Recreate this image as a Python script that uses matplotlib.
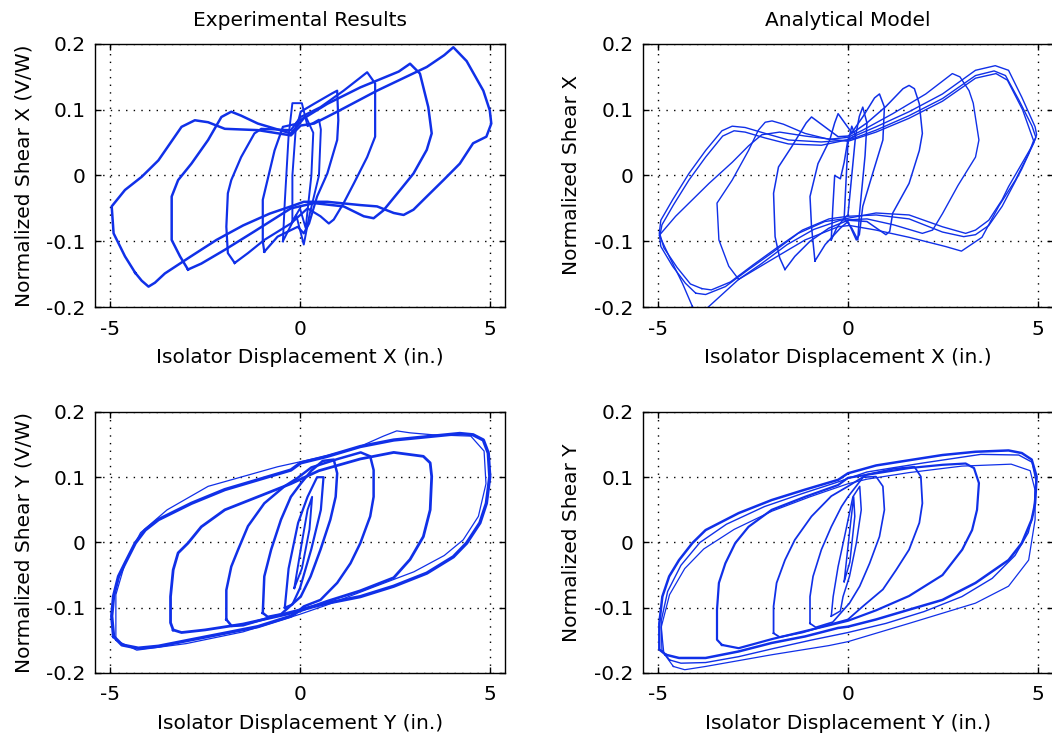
import matplotlib
matplotlib.use('Agg')
import matplotlib.pyplot as plt

plt.rcParams['font.family'] = ['DejaVu Sans']
plt.rcParams['axes.unicode_minus'] = False

# ---- Experimental, X direction (x = displacement in., y = shear V/W) ----
exp_x_a = [(-4.34, -0.148), (-4.17, -0.160), (-3.99, -0.169), (-3.82, -0.163), (-3.56, -0.149),
           (-2.90, -0.124), (-2.20, -0.098), (-1.50, -0.076), (-0.80, -0.058), (-0.24, -0.047),
           (0.10, -0.040), (0.72, -0.040), (1.59, -0.045), (2.03, -0.047), (2.47, -0.057),
           (2.73, -0.060), (2.99, -0.052), (3.34, -0.032), (3.78, -0.007), (4.21, 0.018),
           (4.56, 0.049), (4.91, 0.059), (5.04, 0.079), (5.00, 0.099), (4.83, 0.129),
           (4.39, 0.174), (4.04, 0.195), (3.80, 0.183), (3.34, 0.165), (2.03, 0.129),
           (0.98, 0.097), (0.37, 0.079), (0.02, 0.076), (-0.24, 0.061), (-1.11, 0.069),
           (-1.98, 0.071), (-2.42, 0.081), (-2.77, 0.084), (-3.12, 0.074), (-3.73, 0.023),
           (-4.17, -0.002), (-4.61, -0.022), (-4.96, -0.047), (-4.91, -0.088), (-4.61, -0.123),
           (-4.34, -0.148)]
exp_x_b = [(-2.95, -0.143), (-2.60, -0.134), (-1.98, -0.113), (-1.20, -0.085), (-0.24, -0.050),
           (0.37, -0.042), (1.15, -0.047), (1.68, -0.062), (1.94, -0.065), (2.20, -0.053),
           (2.64, -0.022), (2.99, 0.003), (3.34, 0.039), (3.47, 0.064), (3.38, 0.104),
           (3.16, 0.155), (2.90, 0.170), (2.60, 0.158), (1.59, 0.134), (0.72, 0.109),
           (0.10, 0.087), (-0.24, 0.064), (-1.11, 0.079), (-1.55, 0.091), (-1.81, 0.097),
           (-2.07, 0.089), (-2.42, 0.054), (-2.86, 0.018), (-3.21, -0.007), (-3.38, -0.032),
           (-3.38, -0.098), (-3.16, -0.123), (-2.95, -0.143)]
exp_x_c = [(-1.72, -0.133), (-1.37, -0.118), (-0.94, -0.098), (-0.24, -0.073), (0.20, -0.050),
           (0.54, -0.062), (0.76, -0.073), (0.89, -0.067), (1.15, -0.042), (1.42, -0.012),
           (1.77, 0.028), (1.98, 0.059), (1.98, 0.140), (1.77, 0.157), (1.15, 0.129),
           (0.54, 0.104), (0.02, 0.089), (-0.24, 0.069), (-1.02, 0.071), (-1.20, 0.064),
           (-1.55, 0.028), (-1.81, -0.007), (-1.90, -0.027), (-1.94, -0.078), (-1.90, -0.118),
           (-1.72, -0.133)]
exp_x_d = [(-0.94, -0.116), (-0.59, -0.093), (-0.06, -0.078), (0.10, -0.088), (0.24, -0.073),
           (0.45, -0.032), (0.72, 0.003), (0.98, 0.054), (1.01, 0.084), (0.98, 0.129),
           (0.85, 0.125), (0.37, 0.109), (0.02, 0.097), (-0.06, 0.079), (-0.45, 0.074),
           (-0.67, 0.038), (-0.98, -0.037), (-0.98, -0.100), (-0.94, -0.116)]
exp_x_e = [(-0.45, -0.100), (-0.10, -0.060), (0.10, -0.105), (0.25, -0.060), (0.50, 0.000),
           (0.55, 0.070), (0.50, 0.085), (0.20, 0.075), (0.05, 0.110), (-0.20, 0.110),
           (-0.30, 0.060), (-0.40, -0.040), (-0.45, -0.100)]
exp_x_f = [(-0.20, -0.070), (0.00, -0.050), (0.15, -0.080), (0.30, 0.000), (0.35, 0.065),
           (0.15, 0.090), (-0.10, 0.080), (-0.20, 0.000), (-0.20, -0.070)]

# ---- Analytical, X direction ----
ana_x_a1 = [(-4.01, -0.179), (-3.75, -0.181), (-3.23, -0.169), (-2.62, -0.143), (-2.01, -0.118),
            (-1.31, -0.088), (-0.61, -0.070), (0.00, -0.065), (0.74, -0.057), (1.61, -0.060),
            (2.49, -0.078), (3.10, -0.088), (3.36, -0.083), (3.71, -0.068), (4.06, -0.037),
            (4.23, -0.017), (4.58, 0.018), (4.89, 0.049), (4.97, 0.062), (4.93, 0.074),
            (4.58, 0.119), (4.23, 0.160), (3.88, 0.167), (3.36, 0.160), (2.49, 0.124),
            (1.61, 0.097), (0.74, 0.074), (0.13, 0.059), (0.00, 0.054), (-0.70, 0.051),
            (-1.57, 0.054), (-2.18, 0.064), (-2.71, 0.073), (-3.05, 0.075), (-3.32, 0.068),
            (-3.75, 0.038), (-4.19, 0.003), (-4.62, -0.037), (-4.93, -0.068), (-4.97, -0.088),
            (-4.93, -0.108), (-4.62, -0.138), (-4.28, -0.164), (-4.01, -0.179)]
ana_x_a2 = [(-3.85, -0.172), (-3.60, -0.174), (-3.10, -0.162), (-2.50, -0.136), (-1.90, -0.111),
            (-1.20, -0.083), (-0.50, -0.066), (0.00, -0.062), (0.74, -0.060), (1.61, -0.066),
            (2.49, -0.086), (3.05, -0.093), (3.36, -0.090), (3.71, -0.076), (4.06, -0.047),
            (4.58, 0.010), (4.85, 0.044), (4.95, 0.058), (4.85, 0.075), (4.50, 0.115),
            (4.15, 0.152), (3.85, 0.159), (3.36, 0.152), (2.49, 0.117), (1.61, 0.091),
            (0.74, 0.069), (0.13, 0.056), (-0.70, 0.046), (-1.57, 0.048), (-2.18, 0.057),
            (-2.71, 0.066), (-3.00, 0.068), (-3.30, 0.060), (-3.75, 0.028), (-4.19, -0.007),
            (-4.60, -0.045), (-4.90, -0.075), (-4.95, -0.090), (-4.85, -0.110), (-4.50, -0.140),
            (-4.15, -0.165), (-3.85, -0.172)]
ana_x_a3 = [(-4.10, -0.199), (-3.93, -0.214), (-3.66, -0.199), (-2.88, -0.158), (-2.01, -0.128),
            (-1.13, -0.098), (-0.26, -0.078), (0.04, -0.076), (0.74, -0.083), (1.61, -0.094),
            (2.57, -0.108), (2.99, -0.115), (3.53, -0.094), (3.97, -0.047), (4.41, -0.007),
            (4.76, 0.033), (4.89, 0.053), (4.60, 0.100), (4.20, 0.145), (3.90, 0.155),
            (3.36, 0.148), (2.49, 0.113), (1.61, 0.087), (0.74, 0.066), (0.00, 0.052),
            (-1.13, 0.060), (-1.80, 0.066), (-2.27, 0.062), (-2.62, 0.045), (-3.05, 0.020),
            (-3.66, -0.012), (-4.54, -0.062), (-4.97, -0.091), (-4.71, -0.123), (-4.36, -0.164),
            (-4.10, -0.199)]
ana_x_b = [(-2.88, -0.158), (-2.30, -0.135), (-1.60, -0.105), (-0.90, -0.082), (-0.20, -0.068),
           (0.50, -0.066), (1.20, -0.075), (1.96, -0.088), (2.23, -0.083), (2.49, -0.058),
           (2.90, -0.015), (3.36, 0.028), (3.45, 0.054), (3.30, 0.110), (3.19, 0.129),
           (2.95, 0.150), (2.75, 0.155), (2.05, 0.124), (1.18, 0.094), (0.39, 0.069),
           (0.00, 0.058), (-0.50, 0.055), (-1.13, 0.064), (-1.70, 0.078), (-2.00, 0.083),
           (-2.18, 0.081), (-2.36, 0.069), (-2.62, 0.038), (-3.05, -0.007), (-3.45, -0.042),
           (-3.40, -0.098), (-3.14, -0.138), (-2.88, -0.158)]
ana_x_c = [(-1.66, -0.143), (-1.40, -0.123), (-1.00, -0.100), (-0.50, -0.080), (0.00, -0.068),
           (0.50, -0.070), (1.00, -0.090), (1.10, -0.085), (1.18, -0.057), (1.61, -0.012),
           (1.88, 0.038), (1.96, 0.064), (1.88, 0.109), (1.75, 0.132), (1.61, 0.137),
           (1.45, 0.132), (1.00, 0.105), (0.50, 0.080), (0.00, 0.060), (-0.26, 0.059),
           (-0.61, 0.074), (-0.96, 0.089), (-1.10, 0.080), (-1.48, 0.044), (-1.83, 0.013),
           (-1.96, -0.027), (-1.92, -0.093), (-1.80, -0.125), (-1.66, -0.143)]
ana_x_d = [(-0.87, -0.130), (-0.60, -0.105), (-0.20, -0.080), (0.00, -0.070), (0.22, -0.098),
           (0.30, -0.090), (0.39, -0.047), (0.65, 0.003), (0.92, 0.054), (0.96, 0.104),
           (0.83, 0.124), (0.70, 0.118), (0.40, 0.090), (0.10, 0.065), (-0.26, 0.094),
           (-0.35, 0.080), (-0.48, 0.054), (-0.79, 0.018), (-1.00, -0.032), (-0.96, -0.078),
           (-0.87, -0.130)]
ana_x_e = [(-0.44, -0.098), (-0.30, -0.080), (-0.10, -0.065), (0.10, -0.080), (0.26, -0.098),
           (0.30, -0.060), (0.45, 0.030), (0.50, 0.080), (0.39, 0.104), (0.30, 0.090),
           (0.20, 0.060), (0.00, 0.055), (-0.10, 0.020), (-0.20, -0.005), (-0.35, 0.000),
           (-0.40, -0.050), (-0.44, -0.098)]
ana_x_f = [(0.00, 0.050), (0.10, 0.075), (0.20, 0.060), (0.10, 0.000), (0.00, -0.060),
           (-0.10, -0.065), (0.00, 0.050)]

# ---- Experimental, Y direction ----
exp_y_a = [(-4.91, -0.144), (-4.69, -0.157), (-4.26, -0.162), (-3.73, -0.159), (-2.86, -0.149),
           (-1.98, -0.139), (-1.11, -0.129), (-0.24, -0.113), (0.02, -0.103), (0.72, -0.093),
           (1.59, -0.083), (2.47, -0.067), (3.34, -0.047), (4.04, -0.022), (4.39, -0.001),
           (4.74, 0.030), (4.91, 0.060), (5.00, 0.101), (4.96, 0.137), (4.83, 0.157),
           (4.56, 0.165), (4.21, 0.167), (3.34, 0.162), (2.47, 0.157), (1.59, 0.147),
           (0.72, 0.132), (0.02, 0.122), (-0.24, 0.111), (-1.11, 0.096), (-1.98, 0.081),
           (-2.86, 0.060), (-3.73, 0.035), (-4.08, 0.019), (-4.34, -0.001), (-4.61, -0.032),
           (-4.78, -0.052), (-4.91, -0.082), (-4.96, -0.113), (-4.91, -0.144)]
exp_y_a2 = [(-4.85, -0.150), (-4.30, -0.165), (-3.00, -0.155), (-1.50, -0.137), (0.00, -0.110),
            (0.70, -0.096), (2.00, -0.067), (3.00, -0.045), (3.80, -0.020), (4.30, 0.004),
            (4.70, 0.040), (4.90, 0.090), (4.85, 0.140), (4.50, 0.163), (3.50, 0.165),
            (2.90, 0.168), (2.55, 0.171), (2.20, 0.163), (1.50, 0.145), (0.50, 0.130),
            (-0.59, 0.116), (-2.42, 0.086), (-3.50, 0.050), (-4.20, 0.015), (-4.60, -0.030),
            (-4.85, -0.080), (-4.85, -0.150)]
exp_y_b = [(-3.34, -0.134), (-3.12, -0.138), (-2.50, -0.134), (-1.50, -0.125), (-0.50, -0.112),
           (0.00, -0.105), (0.72, -0.090), (1.59, -0.074), (2.47, -0.054), (2.90, -0.026),
           (3.25, 0.009), (3.43, 0.050), (3.47, 0.101), (3.43, 0.122), (3.25, 0.132),
           (2.47, 0.138), (1.59, 0.128), (0.50, 0.110), (-0.24, 0.090), (-1.11, 0.070),
           (-1.98, 0.050), (-2.60, 0.024), (-2.95, -0.001), (-3.21, -0.016), (-3.34, -0.042),
           (-3.41, -0.083), (-3.41, -0.123), (-3.34, -0.134)]
exp_y_c = [(-1.94, -0.118), (-1.80, -0.128), (-1.50, -0.127), (-0.80, -0.115), (0.00, -0.103),
           (0.10, -0.098), (0.54, -0.088), (0.98, -0.062), (1.33, -0.032), (1.59, -0.001),
           (1.85, 0.040), (1.94, 0.070), (1.94, 0.111), (1.85, 0.132), (1.60, 0.138),
           (1.00, 0.128), (0.30, 0.115), (-0.06, 0.099), (-0.41, 0.086), (-0.94, 0.060),
           (-1.37, 0.025), (-1.63, -0.011), (-1.81, -0.037), (-1.94, -0.073), (-1.94, -0.118)]
exp_y_d = [(-0.98, -0.108), (-0.85, -0.114), (-0.50, -0.110), (0.02, -0.083), (0.28, -0.052),
           (0.54, -0.011), (0.80, 0.035), (0.94, 0.070), (0.98, 0.106), (0.89, 0.127),
           (0.60, 0.125), (0.30, 0.110), (0.03, 0.091), (-0.24, 0.070), (-0.50, 0.035),
           (-0.76, -0.011), (-0.94, -0.052), (-0.98, -0.108)]
exp_y_e = [(-0.40, -0.100), (-0.30, -0.040), (-0.05, 0.030), (0.20, 0.070), (0.45, 0.100),
           (0.62, 0.100), (0.55, 0.050), (0.30, -0.010), (0.00, -0.070), (-0.20, -0.095),
           (-0.40, -0.100)]
exp_y_f = [(-0.15, -0.070), (0.05, 0.000), (0.20, 0.050), (0.32, 0.070), (0.25, 0.020),
           (0.05, -0.040), (-0.15, -0.070)]

# ---- Analytical, Y direction ----
ana_y_a1 = [(-4.80, -0.172), (-4.45, -0.177), (-3.75, -0.177), (-2.88, -0.167), (-2.01, -0.154),
            (-1.13, -0.144), (-0.26, -0.131), (0.00, -0.129), (0.74, -0.118), (1.61, -0.103),
            (2.49, -0.088), (3.36, -0.062), (4.23, -0.027), (4.58, -0.001), (4.84, 0.035),
            (4.93, 0.060), (4.97, 0.101), (4.84, 0.127), (4.58, 0.137), (4.23, 0.141),
            (3.36, 0.139), (2.49, 0.134), (1.61, 0.126), (0.74, 0.118), (0.00, 0.106),
            (-0.26, 0.096), (-1.13, 0.081), (-2.01, 0.065), (-2.88, 0.045), (-3.75, 0.019),
            (-4.10, -0.001), (-4.45, -0.027), (-4.71, -0.052), (-4.89, -0.083), (-4.97, -0.124),
            (-4.97, -0.164), (-4.80, -0.172)]
ana_y_a2 = [(-4.60, -0.190), (-4.30, -0.195), (-3.75, -0.190), (-2.00, -0.172), (-0.50, -0.158),
            (0.00, -0.152), (1.61, -0.124), (3.36, -0.093), (4.23, -0.067), (4.76, -0.027),
            (4.93, 0.035), (4.93, 0.080), (4.80, 0.110), (4.30, 0.120), (3.00, 0.117),
            (1.60, 0.107), (0.50, 0.097), (0.00, 0.090), (-1.00, 0.070), (-2.00, 0.048),
            (-3.00, 0.020), (-3.80, -0.010), (-4.30, -0.040), (-4.70, -0.080), (-4.92, -0.130),
            (-4.85, -0.170), (-4.60, -0.190)]
ana_y_a3 = [(-4.70, -0.180), (-4.40, -0.185), (-3.75, -0.184), (-2.88, -0.175), (-2.00, -0.163),
            (-1.00, -0.150), (0.00, -0.138), (1.00, -0.124), (2.00, -0.106), (3.00, -0.083),
            (3.80, -0.055), (4.40, -0.020), (4.75, 0.015), (4.90, 0.050), (4.95, 0.095),
            (4.85, 0.123), (4.50, 0.134), (3.50, 0.135), (2.00, 0.122), (0.50, 0.108),
            (-0.30, 0.092), (-1.20, 0.075), (-2.20, 0.055), (-3.20, 0.028), (-3.90, 0.000),
            (-4.40, -0.035), (-4.75, -0.075), (-4.92, -0.120), (-4.90, -0.165), (-4.70, -0.180)]
ana_y_b = [(-3.32, -0.157), (-2.88, -0.162), (-2.00, -0.148), (-1.00, -0.134), (0.00, -0.120),
           (0.74, -0.104), (1.61, -0.082), (2.49, -0.050), (3.01, -0.011), (3.27, 0.019),
           (3.40, 0.050), (3.45, 0.091), (3.32, 0.114), (3.10, 0.121), (2.49, 0.119),
           (1.61, 0.114), (0.74, 0.106), (0.00, 0.099), (-0.26, 0.088), (-1.13, 0.070),
           (-2.01, 0.050), (-2.62, 0.024), (-2.97, -0.001), (-3.23, -0.032), (-3.40, -0.062),
           (-3.45, -0.103), (-3.45, -0.149), (-3.32, -0.157)]
ana_y_c = [(-1.96, -0.139), (-1.80, -0.145), (-1.20, -0.138), (-0.50, -0.126), (0.00, -0.118),
           (0.39, -0.098), (0.92, -0.072), (1.27, -0.042), (1.61, -0.011), (1.88, 0.030),
           (1.96, 0.060), (1.92, 0.101), (1.75, 0.116), (1.20, 0.113), (0.50, 0.104),
           (0.00, 0.086), (-0.44, 0.071), (-0.96, 0.040), (-1.40, 0.004), (-1.66, -0.027),
           (-1.88, -0.062), (-1.96, -0.098), (-1.96, -0.139)]
ana_y_d = [(-1.00, -0.124), (-0.85, -0.130), (-0.40, -0.122), (0.04, -0.093), (0.31, -0.067),
           (0.57, -0.032), (0.83, 0.009), (0.96, 0.050), (0.92, 0.086), (0.74, 0.101),
           (0.40, 0.100), (0.00, 0.070), (-0.17, 0.055), (-0.44, 0.024), (-0.70, -0.011),
           (-0.92, -0.052), (-1.00, -0.083), (-1.00, -0.124)]
ana_y_e = [(-0.44, -0.113), (-0.20, -0.105), (-0.13, -0.083), (0.04, -0.052), (0.22, -0.001),
           (0.35, 0.050), (0.31, 0.086), (0.13, 0.070), (-0.09, 0.009), (-0.26, -0.037),
           (-0.39, -0.083), (-0.44, -0.113)]
ana_y_f = [(-0.10, -0.060), (0.05, 0.020), (0.15, 0.070), (0.18, 0.040), (0.05, -0.030),
           (-0.05, -0.050), (-0.10, -0.060)]

x_ticks = [-5, 0, 5]
x_ticklabels = ['-5', '0', '5']
y_ticks = [-0.2, -0.1, 0, 0.1, 0.2]
y_ticklabels = ['-0.2', '-0.1', '0', '0.1', '0.2']

LINE = '#1030e8'
FS = 14.5

fig = plt.figure(figsize=(10.52, 7.38), dpi=100)

panels = [
    # (position, loops, line widths, title, xlabel, ylabel)
    ([0.0903, 0.5840, 0.3897, 0.3564],
     [exp_x_a, exp_x_b, exp_x_c, exp_x_d, exp_x_e, exp_x_f],
     [1.8, 1.8, 1.6, 1.6, 1.4, 1.4],
     'Experimental Results', 'Isolator Displacement X (in.)', 'Normalized Shear X (V/W)'),
    ([0.6112, 0.5840, 0.3897, 0.3564],
     [ana_x_a1, ana_x_a2, ana_x_a3, ana_x_b, ana_x_c, ana_x_d, ana_x_e, ana_x_f],
     [1.0, 1.0, 1.0, 1.0, 1.1, 1.1, 1.1, 1.1],
     'Analytical Model', 'Isolator Displacement X (in.)', 'Normalized Shear X'),
    ([0.0903, 0.0881, 0.3897, 0.3537],
     [exp_y_a, exp_y_a2, exp_y_b, exp_y_c, exp_y_d, exp_y_e, exp_y_f],
     [2.4, 0.9, 2.0, 1.8, 1.8, 1.6, 1.4],
     None, 'Isolator Displacement Y (in.)', 'Normalized Shear Y (V/W)'),
    ([0.6112, 0.0881, 0.3897, 0.3537],
     [ana_y_a1, ana_y_a2, ana_y_a3, ana_y_b, ana_y_c, ana_y_d, ana_y_e, ana_y_f],
     [1.8, 0.9, 1.0, 1.6, 1.3, 1.2, 1.1, 1.1],
     None, 'Isolator Displacement Y (in.)', 'Normalized Shear Y'),
]

for pos, loops, widths, title, xlabel, ylabel in panels:
    ax = fig.add_axes(pos)
    for loop, lw in zip(loops, widths):
        xs = [p[0] for p in loop]
        ys = [p[1] for p in loop]
        ax.plot(xs, ys, color=LINE, lw=lw, solid_joinstyle='round')
    ax.set_xlim(-5.4, 5.4)
    ax.set_ylim(-0.2, 0.2)
    ax.set_xticks(x_ticks)
    ax.set_xticklabels(x_ticklabels)
    ax.set_yticks(y_ticks)
    ax.set_yticklabels(y_ticklabels)
    ax.grid(True, color='black', linestyle=(0, (1, 4.5)), linewidth=1.0)
    ax.tick_params(direction='in', length=4, width=1, top=True, right=True,
                   labelsize=FS)
    ax.tick_params(axis='x', pad=9)
    ax.tick_params(axis='y', pad=7)
    for s in ax.spines.values():
        s.set_linewidth(1.0)
    if title:
        ax.set_title(title, fontsize=FS, pad=13)
    ax.set_xlabel(xlabel, fontsize=FS, labelpad=7)
    ax.set_ylabel(ylabel, fontsize=FS, labelpad=9)

fig.savefig('out.png', dpi=100)
